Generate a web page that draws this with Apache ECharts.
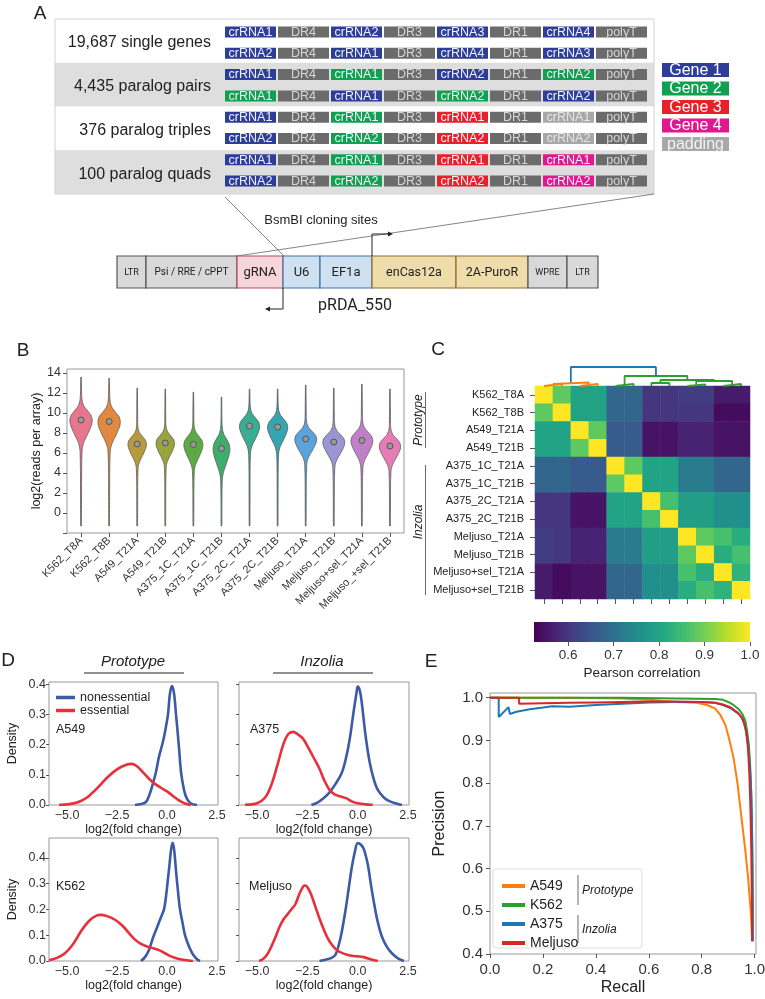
<!DOCTYPE html>
<html><head><meta charset="utf-8">
<script src="https://cdn.jsdelivr.net/npm/echarts@6/dist/echarts.min.js"></script>
<style>html,body{margin:0;padding:0;background:#fff}#c{width:765px;height:999px}</style>
</head><body><div id="c"></div><script>
// ---------------- DATA ----------------
// Panel A (schematic)
const libraryRowLabels = ['19,687 single genes', '4,435 paralog pairs', '376 paralog triples', '100 paralog quads'];
const arrayGuides = [
  [['crRNA1', 0], ['crRNA2', 0], ['crRNA3', 0], ['crRNA4', 0]],
  [['crRNA2', 0], ['crRNA1', 0], ['crRNA4', 0], ['crRNA3', 0]],
  [['crRNA1', 0], ['crRNA1', 1], ['crRNA2', 0], ['crRNA2', 1]],
  [['crRNA1', 1], ['crRNA1', 0], ['crRNA2', 1], ['crRNA2', 0]],
  [['crRNA1', 0], ['crRNA1', 1], ['crRNA1', 2], ['crRNA1', 4]],
  [['crRNA2', 0], ['crRNA2', 1], ['crRNA2', 2], ['crRNA2', 4]],
  [['crRNA1', 0], ['crRNA1', 1], ['crRNA1', 2], ['crRNA1', 3]],
  [['crRNA2', 0], ['crRNA2', 1], ['crRNA2', 2], ['crRNA2', 3]]
];
const spacerNames = ['DR4', 'DR3', 'DR1', 'polyT'];
const geneLegend = ['Gene 1', 'Gene 2', 'Gene 3', 'Gene 4', 'padding'];
const vectorParts = ['LTR', 'Psi / RRE / cPPT', 'gRNA', 'U6', 'EF1a', 'enCas12a', '2A-PuroR', 'WPRE', 'LTR'];

// Panel B (violins)
const violinCats = ['K562_T8A', 'K562_T8B', 'A549_T21A', 'A549_T21B', 'A375_1C_T21A', 'A375_1C_T21B', 'A375_2C_T21A', 'A375_2C_T21B', 'Meljuso_T21A', 'Meljuso_T21B', 'Meljuso+sel_T21A', 'Meljuso_+sel_T21B'];
const violinMedians = [9.3, 9.15, 6.9, 7.0, 6.85, 6.45, 8.7, 8.6, 7.4, 7.1, 7.25, 6.7];
const violinTops = [13.6, 13.5, 12.5, 12.4, 12.1, 11.6, 12.4, 12.4, 12.8, 12.5, 12.9, 12.4];
const violinBottoms = [-1.3, -1.3, -1.3, -1.3, -1.3, -1.3, -1.3, -1.3, -1.3, -1.3, -1.3, -1.3];
const violinPeakWidths = [0.40, 0.40, 0.33, 0.33, 0.34, 0.30, 0.36, 0.36, 0.39, 0.39, 0.39, 0.38];
const violinSpreads = [0.9, 0.9, 0.72, 0.72, 0.8, 0.95, 0.8, 0.8, 0.75, 0.75, 0.8, 0.75];
// shared violin outline shape: [offset from median, relative half width]
const violinProfile = [[-20, 0.04], [-6, 0.05], [-4.5, 0.065], [-3.5, 0.09], [-3, 0.13], [-2.5, 0.24], [-2, 0.42], [-1.5, 0.62], [-1, 0.8], [-0.5, 0.95], [0, 1], [0.5, 0.9], [1, 0.6], [1.5, 0.28], [2, 0.12], [2.5, 0.07], [3, 0.05], [20, 0.035]];
const yTicksB = [-2, 0, 2, 4, 6, 8, 10, 12, 14];

// Panel C (correlation heatmap)
const corrLabels = ['K562_T8A', 'K562_T8B', 'A549_T21A', 'A549_T21B', 'A375_1C_T21A', 'A375_1C_T21B', 'A375_2C_T21A', 'A375_2C_T21B', 'Meljuso_T21A', 'Meljuso_T21B', 'Meljuso+sel_T21A', 'Meljuso+sel_T21B'];
const corrMatrix = [
  [1.00, 0.88, 0.80, 0.80, 0.68, 0.68, 0.60, 0.60, 0.61, 0.61, 0.56, 0.56],
  [0.88, 1.00, 0.80, 0.80, 0.68, 0.68, 0.60, 0.60, 0.60, 0.60, 0.54, 0.54],
  [0.80, 0.80, 1.00, 0.88, 0.66, 0.66, 0.55, 0.55, 0.57, 0.57, 0.55, 0.55],
  [0.80, 0.80, 0.88, 1.00, 0.66, 0.66, 0.55, 0.55, 0.57, 0.57, 0.55, 0.55],
  [0.68, 0.68, 0.66, 0.66, 1.00, 0.88, 0.80, 0.80, 0.72, 0.72, 0.68, 0.68],
  [0.68, 0.68, 0.66, 0.66, 0.88, 1.00, 0.80, 0.80, 0.72, 0.72, 0.68, 0.68],
  [0.60, 0.60, 0.55, 0.55, 0.80, 0.80, 1.00, 0.86, 0.79, 0.79, 0.76, 0.76],
  [0.60, 0.60, 0.55, 0.55, 0.80, 0.80, 0.86, 1.00, 0.79, 0.79, 0.76, 0.76],
  [0.61, 0.60, 0.57, 0.57, 0.72, 0.72, 0.79, 0.79, 1.00, 0.88, 0.86, 0.82],
  [0.61, 0.60, 0.57, 0.57, 0.72, 0.72, 0.79, 0.79, 0.88, 1.00, 0.82, 0.86],
  [0.56, 0.54, 0.55, 0.55, 0.68, 0.68, 0.76, 0.76, 0.86, 0.82, 1.00, 0.83],
  [0.56, 0.54, 0.55, 0.55, 0.68, 0.68, 0.76, 0.76, 0.82, 0.86, 0.83, 1.00]
];
const corrMin = 0.525, corrMax = 1.0;
const colorbarTicks = [0.6, 0.7, 0.8, 0.9, 1.0];
// dendrogram links: [xLeft, hLeft, xRight, hRight, hJoin, cluster]
const dendroLinks = [
  [0.5, 0, 1.5, 0, 2, 'o'], [2.5, 0, 3.5, 0, 2, 'o'], [1.0, 2, 3.0, 2, 3.5, 'o'],
  [4.5, 0, 5.5, 0, 2, 'g'], [6.5, 0, 7.5, 0, 3, 'g'], [8.5, 0, 9.5, 0, 1.5, 'g'], [10.5, 0, 11.5, 0, 2, 'g'],
  [9.0, 1.5, 11.0, 2, 5, 'g'], [7.0, 3, 10.0, 5, 6, 'g'], [5.0, 2, 8.5, 6, 10, 'g'],
  [2.0, 3.5, 6.75, 10, 19, 'b']
];

// Panel D (density curves) [log2FC, density]
const dA549Non = [[-1.6,0],[-1.3,0.003],[-1.05,0.01],[-0.9,0.03],[-0.75,0.06],[-0.55,0.11],[-0.4,0.16],[-0.2,0.21],[-0.05,0.26],[0.05,0.30],[0.15,0.37],[0.25,0.394],[0.35,0.37],[0.45,0.30],[0.6,0.19],[0.7,0.11],[0.85,0.05],[1.0,0.02],[1.2,0.005],[1.5,0]];
const dA549Ess = [[-5.4,0],[-5.0,0.002],[-4.5,0.008],[-4.0,0.025],[-3.5,0.055],[-3.0,0.09],[-2.5,0.118],[-2.0,0.134],[-1.75,0.136],[-1.5,0.128],[-1.2,0.108],[-0.9,0.087],[-0.6,0.07],[-0.3,0.057],[0,0.045],[0.3,0.03],[0.6,0.015],[0.9,0.005],[1.2,0]];
const dA375Non = [[-2.3,0],[-2.0,0.008],[-1.7,0.022],[-1.4,0.042],[-1.1,0.07],[-0.8,0.105],[-0.6,0.15],[-0.4,0.217],[-0.2,0.31],[-0.05,0.375],[0.0,0.392],[0.1,0.38],[0.2,0.34],[0.4,0.225],[0.6,0.14],[0.8,0.085],[1.0,0.05],[1.3,0.025],[1.6,0.012],[2.0,0.003],[2.2,0]];
const dA375Ess = [[-5.6,0.001],[-5.0,0.006],[-4.6,0.025],[-4.3,0.065],[-4.0,0.13],[-3.7,0.2],[-3.45,0.235],[-3.2,0.242],[-3.0,0.235],[-2.75,0.222],[-2.5,0.195],[-2.2,0.158],[-1.9,0.12],[-1.65,0.08],[-1.4,0.05],[-1.15,0.035],[-0.85,0.028],[-0.55,0.022],[-0.3,0.012],[0,0.006],[0.4,0.002],[0.75,0]];
const dK562Non = [[-1.3,0],[-1.1,0.015],[-0.9,0.043],[-0.7,0.09],[-0.5,0.13],[-0.3,0.17],[-0.15,0.2],[-0.05,0.25],[0.05,0.32],[0.12,0.37],[0.2,0.43],[0.28,0.458],[0.36,0.43],[0.45,0.35],[0.55,0.27],[0.65,0.2],[0.78,0.147],[0.9,0.1],[1.1,0.056],[1.3,0.025],[1.5,0.007],[1.65,0]];
const dK562Ess = [[-5.9,0.003],[-5.5,0.012],[-5.1,0.03],[-4.7,0.065],[-4.3,0.115],[-3.9,0.155],[-3.5,0.177],[-3.3,0.179],[-3.0,0.174],[-2.6,0.16],[-2.2,0.135],[-1.9,0.108],[-1.6,0.083],[-1.3,0.066],[-1.0,0.056],[-0.7,0.05],[-0.4,0.042],[-0.1,0.03],[0.2,0.018],[0.5,0.01],[0.9,0.004],[1.3,0]];
const dMelNon = [[-1.9,0],[-1.6,0.005],[-1.3,0.012],[-1.1,0.025],[-0.95,0.06],[-0.8,0.11],[-0.6,0.2],[-0.45,0.28],[-0.3,0.36],[-0.15,0.42],[0.0,0.457],[0.15,0.452],[0.3,0.435],[0.5,0.375],[0.65,0.3],[0.8,0.23],[1.0,0.15],[1.2,0.095],[1.45,0.055],[1.7,0.03],[2.0,0.01],[2.3,0]];
const dMelEss = [[-4.9,0],[-4.7,0.008],[-4.5,0.025],[-4.3,0.055],[-4.1,0.09],[-3.9,0.13],[-3.7,0.16],[-3.5,0.18],[-3.3,0.2],[-3.1,0.22],[-2.9,0.26],[-2.7,0.29],[-2.6,0.293],[-2.45,0.28],[-2.3,0.255],[-2.1,0.21],[-1.9,0.165],[-1.7,0.125],[-1.5,0.09],[-1.3,0.065],[-1.1,0.047],[-0.9,0.035],[-0.6,0.026],[-0.3,0.02],[0,0.018],[0.3,0.015],[0.6,0.008],[1.0,0]];
const dXTicks = [-5, -2.5, 0, 2.5];
const dYTicksTop = [0, 0.1, 0.2, 0.3, 0.4];
const dYTicksBot = [0, 0.1, 0.2, 0.3, 0.4];

// Panel E (precision-recall) [recall, precision]
const prA549 = [[0,1],[0.3,1],[0.5,0.998],[0.6,0.995],[0.7,0.99],[0.78,0.988],[0.82,0.983],[0.85,0.975],[0.87,0.96],[0.89,0.935],[0.905,0.9],[0.92,0.86],[0.935,0.8],[0.95,0.72],[0.965,0.64],[0.975,0.58],[0.985,0.5],[0.99,0.44]];
const prK562 = [[0,1],[0.5,1.0],[0.5,0.998],[0.85,0.997],[0.88,0.995],[0.9,0.99],[0.92,0.983],[0.94,0.973],[0.955,0.96],[0.965,0.945],[0.972,0.92],[0.978,0.89],[0.983,0.84],[0.987,0.77],[0.99,0.68],[0.991,0.6],[0.992,0.5],[0.992,0.43]];
const prA375 = [[0,1.0],[0.033,1.0],[0.033,0.955],[0.07,0.978],[0.075,0.962],[0.1,0.967],[0.15,0.973],[0.2,0.977],[0.235,0.98],[0.235,0.976],[0.3,0.979],[0.4,0.983],[0.5,0.986],[0.6,0.989],[0.7,0.99],[0.8,0.99],[0.85,0.988],[0.88,0.983],[0.91,0.975],[0.94,0.962],[0.955,0.95],[0.965,0.93],[0.975,0.89],[0.982,0.84],[0.987,0.78],[0.99,0.7],[0.992,0.6],[0.993,0.5],[0.993,0.43]];
const prMel = [[0,1],[0.11,1.0],[0.11,0.986],[0.2,0.987],[0.3,0.988],[0.4,0.989],[0.5,0.99],[0.6,0.991],[0.7,0.991],[0.8,0.99],[0.85,0.988],[0.88,0.984],[0.91,0.977],[0.935,0.965],[0.95,0.955],[0.96,0.94],[0.968,0.92],[0.975,0.88],[0.98,0.82],[0.984,0.74],[0.987,0.65],[0.989,0.55],[0.99,0.47],[0.99,0.43]];
const eXTicks = [0, 0.2, 0.4, 0.6, 0.8, 1.0];
const eYTicks = [0.4, 0.5, 0.6, 0.7, 0.8, 0.9, 1.0];

// ---------------- STYLE ----------------
const F = "'Liberation Sans', Arial, Helvetica, sans-serif";
const R = "Roboto, 'Liberation Sans', Arial, sans-serif";
const geneColors = ['#2e3d98', '#10a050', '#e8202a', '#e01890', '#a8a8a8'];
const violinColors = ['#e8778d', '#e3893f', '#b69a3b', '#99a43b', '#5caa43', '#3dad6c', '#39ad92', '#35a5b2', '#5aa3dc', '#9b95d4', '#c07fc8', '#e57cb6'];
const viridis = ['#440154', '#482475', '#414487', '#355f8d', '#2a788e', '#21918c', '#22a884', '#44bf70', '#7ad151', '#bddf26', '#fde725'];
const dendroColors = { o: '#ff7f0e', g: '#2ca02c', b: '#1f77b4' };
const cNon = '#3b5ba5', cEss = '#e8303b';
const prColors = ['#ff7f0e', '#2ca02c', '#1f77b4', '#d62728'];
const frame = '#999';
const fmt1 = v => (v < 0 ? '\u2212' : '') + Math.abs(v).toFixed(1);

// ---------------- GRAPHIC (panel A + annotations) ----------------
const G = [];
const txt = (x, y, text, size, opt = {}) => G.push({
  type: 'text', x, y, rotation: opt.rot || 0,
  style: { text, font: `${opt.italic ? 'italic ' : ''}${size}px ${opt.fam || F}`, fill: opt.fill || '#222', align: opt.align || 'center', verticalAlign: 'middle' }
});
const line = (pts, color = '#666', w = 0.8) => G.push({ type: 'polyline', shape: { points: pts }, style: { stroke: color, lineWidth: w, fill: null } });

// bands
const AX0 = 55, AX1 = 654, AY0 = 19, AB = 43.75;
libraryRowLabels.forEach((lab, b) => {
  G.push({ type: 'rect', shape: { x: AX0, y: AY0 + b * AB, width: AX1 - AX0, height: AB }, style: { fill: b % 2 ? '#dedede' : '#ffffff' } });
  txt(211, AY0 + b * AB + AB / 2 + 2, lab, 16, { align: 'right' });
});
G.push({ type: 'rect', shape: { x: AX0, y: AY0, width: AX1 - AX0, height: 4 * AB }, style: { fill: null, stroke: '#d2d2d2', lineWidth: 1 } });
arrayGuides.forEach((row, r) => {
  const y = 26.5 + r * 21.3;
  for (let k = 0; k < 8; k++) {
    let label, fill, tc;
    if (k % 2 === 0) { const g = row[k / 2]; label = g[0]; fill = geneColors[g[1]]; tc = g[1] === 4 ? '#e4e4e4' : '#f0f0f8'; }
    else { label = spacerNames[(k - 1) / 2]; fill = '#6b6b6b'; tc = '#d6d6d6'; }
    G.push({ type: 'rect', shape: { x: 225 + k * 53, y, width: 51, height: 11 }, style: { fill } });
    txt(225 + k * 53 + 25.5, y + 5.8, label, 12.5, { fill: tc });
  }
});
geneLegend.forEach((g, i) => {
  const y = 63 + i * 18.5;
  G.push({ type: 'rect', shape: { x: 662, y, width: 67, height: 14 }, style: { fill: geneColors[i] } });
  txt(695.5, y + 7.5, g, 16, { fill: i === 4 ? '#f2f2f2' : '#ffffff' });
});
// cloning-site lines
line([[225, 197], [284, 256]]);
line([[654, 194], [237, 256]]);
txt(321, 220, 'BsmBI cloning sites', 13);
// vector
const vx = [117, 146, 237, 283, 320, 372, 456, 528, 567, 598];
const vFill = ['#d9d9d9', '#d9d9d9', '#f6d5db', '#cfe0f1', '#cfe0f1', '#eedcab', '#eedcab', '#d9d9d9', '#d9d9d9'];
const vStroke = ['#555', '#555', '#b34a5e', '#3e74a8', '#3e74a8', '#8e6f33', '#8e6f33', '#555', '#555'];
const vFont = [9, 10, 13, 13, 13, 12.5, 12.5, 9, 9];
vectorParts.forEach((p, i) => {
  G.push({ type: 'rect', shape: { x: vx[i], y: 256, width: vx[i + 1] - vx[i], height: 32 }, style: { fill: vFill[i], stroke: vStroke[i], lineWidth: 1.2 } });
});
vectorParts.forEach((p, i) => txt((vx[i] + vx[i + 1]) / 2, 272.5, p, vFont[i], { fam: R }));
line([[372, 256], [372, 234], [389, 234]], '#222', 1);
G.push({ type: 'polygon', shape: { points: [[393, 234], [388, 231.5], [388, 236.5]] }, style: { fill: '#222' } });
line([[283, 288], [283, 309], [269, 309]], '#222', 1);
G.push({ type: 'polygon', shape: { points: [[265, 309], [270, 306.5], [270, 311.5]] }, style: { fill: '#222' } });
txt(355, 306, 'pRDA_550', 16, { fam: R });

// panel letters
txt(40, 14, 'A', 19); txt(23, 351, 'B', 19); txt(438, 350, 'C', 19); txt(8, 661, 'D', 19); txt(431, 662, 'E', 19);
// C group labels
txt(419, 420, 'Prototype', 12, { italic: true, rot: Math.PI / 2 });
line([[425.5, 392], [425.5, 448]], '#444', 0.8);
txt(419, 522, 'Inzolia', 12, { italic: true, rot: Math.PI / 2 });
line([[425.5, 465], [425.5, 595]], '#444', 0.8);
// D titles
txt(133, 662, 'Prototype', 15, { italic: true }); line([[84, 673], [184, 673]], '#222', 1.2);
txt(322, 662, 'Inzolia', 15, { italic: true }); line([[273, 673], [373, 673]], '#222', 1.2);
txt(56, 730, 'A549', 12.5, { align: 'left' });
txt(250, 730, 'A375', 12.5, { align: 'left' });
txt(56, 887, 'K562', 12.5, { align: 'left' });
txt(249, 887, 'Meljuso', 12.5, { align: 'left' });
// E legend box & groups
G.push({ type: 'rect', z: -1, shape: { x: 493, y: 869, width: 149, height: 79, r: 3 }, style: { fill: 'rgba(255,255,255,0.85)', stroke: '#ddd', lineWidth: 1 } });
line([[578, 875], [578, 905]], '#444', 0.8);
line([[578, 915], [578, 943]], '#444', 0.8);
txt(582, 891, 'Prototype', 12, { italic: true, align: 'left' });
txt(582, 930, 'Inzolia', 12, { italic: true, align: 'left' });

// ---------------- SERIES ----------------
const series = [];
// violins
series.push({
  type: 'custom', xAxisIndex: 0, yAxisIndex: 0, silent: true,
  data: violinCats.map((c, i) => [i, violinMedians[i]]),
  renderItem: (params, api) => {
    const i = params.dataIndex;
    const catW = api.size([1, 0])[0];
    const cx = api.coord([i, 0])[0];
    const med = violinMedians[i], top = violinTops[i], bot = violinBottoms[i];
    const pw = violinPeakWidths[i], sp = violinSpreads[i];
    const prof = [[bot, 0.012]];
    violinProfile.forEach(([o, w]) => { const v = med + o * sp; if (v > bot && v < top) prof.push([v, w * pw]); });
    prof.push([top, 0.008]);
    const right = prof.map(([v, w]) => [cx + w * catW, api.coord([i, v])[1]]);
    const left = prof.slice().reverse().map(([v, w]) => [cx - w * catW, api.coord([i, v])[1]]);
    const m = api.coord([i, med]);
    return {
      type: 'group', children: [
        { type: 'polygon', shape: { points: right.concat(left), smooth: 0.15 }, style: { fill: violinColors[i], stroke: '#5a5a5a', lineWidth: 0.8 } },
        { type: 'circle', shape: { cx: m[0], cy: m[1], r: 3 }, style: { fill: '#999', stroke: '#555', lineWidth: 1 } }
      ]
    };
  }
});
// heatmap
const heatData = [];
corrMatrix.forEach((row, r) => row.forEach((v, c) => heatData.push([c, r, v])));
series.push({ type: 'heatmap', xAxisIndex: 1, yAxisIndex: 1, data: heatData, silent: true, itemStyle: { borderWidth: 0 }, emphasis: { disabled: true } });
// dendrogram
dendroLinks.forEach(([xl, hl, xr, hr, hj, c]) => series.push({
  type: 'line', xAxisIndex: 2, yAxisIndex: 2, data: [[xl, hl], [xl, hj], [xr, hj], [xr, hr]],
  showSymbol: false, silent: true, clip: false, lineStyle: { color: dendroColors[c], width: 1.8 }
}));
// densities
const dPanels = [[dA549Non, dA549Ess], [dA375Non, dA375Ess], [dK562Non, dK562Ess], [dMelNon, dMelEss]];
dPanels.forEach(([non, ess], k) => {
  [['nonessential', non, cNon], ['essential', ess, cEss]].forEach(([name, d, col]) => series.push({
    type: 'line', name, xAxisIndex: 3 + k, yAxisIndex: 3 + k, data: d, showSymbol: false, smooth: 0.35, silent: true,
    lineStyle: { color: col, width: 2.6 }, itemStyle: { color: col }
  }));
});
// PR curves
[['A549', prA549], ['K562', prK562], ['A375', prA375], ['Meljuso', prMel]].forEach(([name, d], k) => series.push({
  type: 'line', name, xAxisIndex: 7, yAxisIndex: 7, data: d, showSymbol: false, silent: true,
  lineStyle: { color: prColors[k], width: 2 }, itemStyle: { color: prColors[k] }
}));
// colorbar
series.push({
  type: 'custom', xAxisIndex: 8, yAxisIndex: 8, silent: true, data: [[corrMin, 0]],
  renderItem: (params, api) => {
    const p0 = api.coord([corrMin, 0]), p1 = api.coord([corrMax, 1]);
    return {
      type: 'rect', shape: { x: p0[0], y: p1[1], width: p1[0] - p0[0], height: p0[1] - p1[1] },
      style: { fill: { type: 'linear', x: 0, y: 0, x2: 1, y2: 0, colorStops: viridis.map((c, i) => ({ offset: i / (viridis.length - 1), color: c })) } }
    };
  }
});

// ---------------- AXES ----------------
const gridBase = { containLabel: false, outerBoundsMode: 'none' };
const grids = [
  { left: 67, top: 369, width: 337, height: 164, show: true, borderColor: frame, borderWidth: 1 },
  { left: 535, top: 386, width: 215, height: 213 },
  { left: 535, top: 360, width: 215, height: 26 },
  { left: 49, top: 682, width: 169, height: 123, show: true, borderColor: frame, borderWidth: 1 },
  { left: 239, top: 682, width: 170, height: 123, show: true, borderColor: frame, borderWidth: 1 },
  { left: 49, top: 838, width: 169, height: 123, show: true, borderColor: frame, borderWidth: 1 },
  { left: 239, top: 838, width: 170, height: 123, show: true, borderColor: frame, borderWidth: 1 },
  { left: 490, top: 693, width: 266, height: 261, show: true, borderColor: frame, borderWidth: 1 },
  { left: 534, top: 622, width: 216, height: 20 }
].map(g => Object.assign({}, gridBase, g));

const noLine = { show: false, onZero: false };
const tick = (len, show = true) => ({ show, length: len, lineStyle: { color: '#555', width: 1 } });
const lbl = (size, extra = {}) => Object.assign({ fontSize: size, color: '#333', fontFamily: F }, extra);
const xAxes = [
  { gridIndex: 0, type: 'category', data: violinCats, axisLine: noLine, axisTick: Object.assign(tick(4), { alignWithLabel: true }), axisLabel: lbl(11, { rotate: 45, margin: 6, interval: 0 }) },
  { gridIndex: 1, type: 'category', data: corrLabels.map((c, i) => i), axisLine: noLine, axisTick: Object.assign(tick(5), { alignWithLabel: true, interval: 0 }), axisLabel: { show: false } },
  { gridIndex: 2, type: 'value', min: 0, max: 12, show: false, axisLine: noLine },
];
const yAxes = [
  { gridIndex: 0, type: 'value', min: -2, max: 14.4, axisLine: noLine, splitLine: { show: false },
    axisTick: Object.assign(tick(4), { customValues: yTicksB }),
    axisLabel: lbl(12.5, { customValues: yTicksB, formatter: v => v === -2 ? '' : String(v), margin: 6 }),
    name: 'log2(reads per array)', nameLocation: 'middle', nameGap: 24, nameTextStyle: { fontSize: 12.5, color: '#222', fontFamily: F } },
  { gridIndex: 1, type: 'category', data: corrLabels, inverse: true, axisLine: noLine, axisTick: Object.assign(tick(5), { alignWithLabel: true, interval: 0 }), axisLabel: lbl(11, { margin: 11, interval: 0, color: '#222' }) },
  { gridIndex: 2, type: 'value', min: 0, max: 26, show: false, axisLine: noLine },
];
// D axes
const dCfg = [[3, true, 0.407], [4, false, 0.407], [5, true, 0.477], [6, false, 0.477]];
dCfg.forEach(([gi, showY, ymax]) => {
  xAxes.push({ gridIndex: gi, type: 'value', min: -5.9, max: 2.55, axisLine: noLine, splitLine: { show: false },
    axisTick: { show: false, customValues: dXTicks },
    axisLabel: lbl(12.5, { customValues: dXTicks, formatter: fmt1, margin: 4 }),
    name: 'log2(fold change)', nameLocation: 'middle', nameGap: 17, nameTextStyle: { fontSize: 12.5, color: '#222', fontFamily: F } });
  const yt = gi <= 4 ? dYTicksTop : dYTicksBot;
  yAxes.push(Object.assign({ gridIndex: gi, type: 'value', min: 0, max: ymax, axisLine: noLine, splitLine: { show: false },
    axisTick: Object.assign(tick(3), { customValues: yt }),
    axisLabel: lbl(12.5, { show: showY, customValues: yt, formatter: fmt1, margin: 3 }) },
    showY ? { name: 'Density', nameLocation: 'middle', nameGap: 30, nameTextStyle: { fontSize: 12.5, color: '#222', fontFamily: F } } : {}));
});
// E axes
xAxes.push({ gridIndex: 7, type: 'value', min: 0, max: 1.005, axisLine: noLine, splitLine: { show: false },
  axisTick: Object.assign(tick(4), { customValues: eXTicks }),
  axisLabel: lbl(15, { customValues: eXTicks, formatter: v => v.toFixed(1), margin: 8 }),
  name: 'Recall', nameLocation: 'middle', nameGap: 26, nameTextStyle: { fontSize: 16, color: '#222', fontFamily: F } });
yAxes.push({ gridIndex: 7, type: 'value', min: 0.4, max: 1.011, axisLine: noLine, splitLine: { show: false },
  axisTick: Object.assign(tick(4), { customValues: eYTicks }),
  axisLabel: lbl(15, { customValues: eYTicks, formatter: v => v.toFixed(1), margin: 7 }),
  name: 'Precision', nameLocation: 'middle', nameGap: 42, nameTextStyle: { fontSize: 16, color: '#222', fontFamily: F } });
// colorbar axes
xAxes.push({ gridIndex: 8, type: 'value', min: corrMin, max: corrMax, axisLine: noLine, splitLine: { show: false },
  axisTick: Object.assign(tick(4), { customValues: colorbarTicks }),
  axisLabel: lbl(13.5, { customValues: colorbarTicks, formatter: v => v.toFixed(1), margin: 6 }),
  name: 'Pearson correlation', nameLocation: 'middle', nameGap: 24, nameTextStyle: { fontSize: 13.5, color: '#222', fontFamily: F } });
yAxes.push({ gridIndex: 8, type: 'value', min: 0, max: 1, show: false, axisLine: noLine });

const option = {
  animation: false,
  textStyle: { fontFamily: F },
  grid: grids,
  xAxis: xAxes,
  yAxis: yAxes,
  visualMap: { type: 'continuous', show: false, min: corrMin, max: corrMax, dimension: 2, seriesIndex: 1, inRange: { color: viridis } },
  legend: [
    { data: ['nonessential', 'essential'], left: 51, top: 686, orient: 'vertical', icon: 'rect', itemWidth: 19, itemHeight: 3.5, itemGap: 0, selectedMode: false,
      textStyle: { fontSize: 12.5, color: '#222', fontFamily: F, lineHeight: 13 } },
    { data: ['A549', 'K562', 'A375', 'Meljuso'], left: 497, top: 873, orient: 'vertical', icon: 'rect', itemWidth: 23, itemHeight: 4, itemGap: 3, selectedMode: false,
      textStyle: { fontSize: 14, color: '#222', fontFamily: F, lineHeight: 16 } }
  ],
  graphic: { elements: G },
  series
};
const chart = echarts.init(document.getElementById('c'), null, { renderer: 'canvas' });
chart.setOption(option);
</script></body></html>
